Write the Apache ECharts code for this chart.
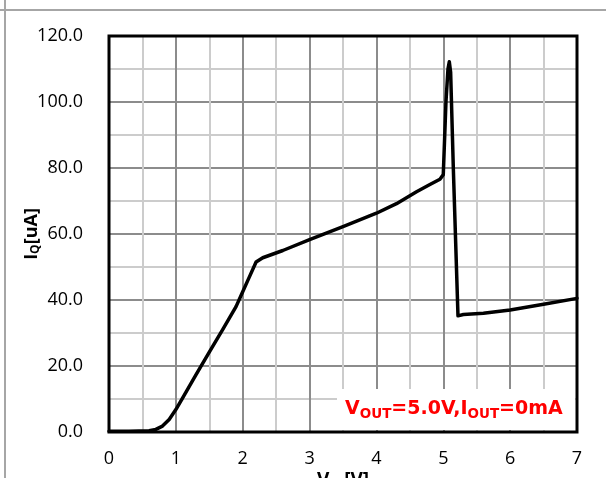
<!DOCTYPE html>
<html>
<head>
<meta charset="utf-8">
<script src="https://cdn.jsdelivr.net/npm/echarts@6/dist/echarts.min.js"></script>
<style>html,body{margin:0;padding:0;background:#fff;}#c{width:606px;height:478px;}</style>
</head>
<body>
<div id="c"></div>
<script>
const vin = [0, 0.3, 0.6, 0.7, 0.8, 0.9, 1.0, 1.1, 1.3, 1.5, 1.7, 1.9, 2.0, 2.1, 2.2, 2.3, 2.6, 3.0, 3.5, 4.0, 4.3, 4.6, 4.8, 4.95, 5.0, 5.04, 5.07, 5.09, 5.11, 5.15, 5.22, 5.3, 5.6, 6.0, 6.5, 7.0];
const iq  = [0.2, 0.2, 0.4, 0.8, 1.8, 3.8, 6.8, 10.3, 17.3, 24.2, 31, 38, 42.5, 47, 51.5, 52.8, 55, 58.3, 62.2, 66.3, 69.2, 72.8, 75, 76.6, 78, 100, 110, 112.2, 109, 80, 35.2, 35.6, 36, 37, 38.7, 40.5];
const xTicks = [0, 1, 2, 3, 4, 5, 6, 7];
const yTicks = [0, 20, 40, 60, 80, 100, 120];

const FONT = '"Open Sans", "Liberation Sans", sans-serif';
const AFONT = '"DejaVu Sans", sans-serif';
const chart = echarts.init(document.getElementById('c'), null, {renderer: 'canvas'});
chart.setOption({
  animation: false,
  grid: {left: 109, right: 29, top: 36, bottom: 46, outerBoundsMode: 'none', containLabel: false, show: true, borderColor: '#000', borderWidth: 3, backgroundColor: 'transparent', z: 3},
  xAxis: {
    type: 'value', min: xTicks[0], max: xTicks[xTicks.length - 1], interval: 1,
    axisLine: {show: false}, axisTick: {show: false},
    axisLabel: {color: '#000', fontSize: 18, fontFamily: FONT, margin: 18, formatter: v => String(v)},
    splitLine: {show: true, lineStyle: {color: '#8c8c8c', width: 2}},
    minorTick: {show: false, splitNumber: 2},
    minorSplitLine: {show: true, lineStyle: {color: '#cccccc', width: 2}},
    name: '{b|V}{s|IN}{b|[V]}', nameLocation: 'middle', nameGap: 38, nameMoveOverlap: false,
    nameTextStyle: {rich: {b: {fontSize: 19, fontWeight: 'bold', fontFamily: FONT, color: '#000'}, s: {fontSize: 13, fontWeight: 'bold', fontFamily: FONT, color: '#000', verticalAlign: 'bottom', padding: [8, 0, 0, 0]}}}
  },
  yAxis: {
    type: 'value', min: yTicks[0], max: yTicks[yTicks.length - 1], interval: 20,
    axisLine: {show: false}, axisTick: {show: false},
    axisLabel: {color: '#000', fontSize: 18, fontFamily: FONT, margin: 26, formatter: v => v.toFixed(1)},
    splitLine: {show: true, lineStyle: {color: '#8c8c8c', width: 2}},
    minorTick: {show: false, splitNumber: 2},
    minorSplitLine: {show: true, lineStyle: {color: '#cccccc', width: 2}},
    name: '{b|I}{s|Q}{b|[uA]}', nameLocation: 'middle', nameGap: 67, nameMoveOverlap: false,
    nameTextStyle: {rich: {b: {fontSize: 18, fontWeight: 'bold', fontFamily: FONT, color: '#000'}, s: {fontSize: 12, fontWeight: 'bold', fontFamily: FONT, color: '#000', verticalAlign: 'bottom', padding: [8, 0, 0, 0]}}}
  },
  series: [{
    type: 'line', data: vin.map((v, i) => [v, iq[i]]), showSymbol: false, smooth: false,
    lineStyle: {color: '#000', width: 3.5, join: 'round', cap: 'round'}, z: 4
  }],
  graphic: [
    {type: 'rect', shape: {x: 337, y: 389, width: 238, height: 41}, style: {fill: '#fff'}, z: 5},
    {type: 'text', x: 345, y: 398, z: 6, style: {
      text: '{b|V}{s|OUT}{b|=5.0V,I}{s|OUT}{b|=0mA}',
      rich: {b: {fontSize: 19, fontWeight: 'bold', fontFamily: AFONT, fill: '#ff0000'}, s: {fontSize: 13.5, fontWeight: 'bold', fontFamily: AFONT, fill: '#ff0000', verticalAlign: 'bottom', padding: [9, 0, 0, 0]}}
    }},
    {type: 'line', shape: {x1: 0, y1: 10, x2: 606, y2: 10}, style: {stroke: '#a6a6a6', lineWidth: 2}, z: 1},
    {type: 'line', shape: {x1: 5, y1: 0, x2: 5, y2: 478}, style: {stroke: '#a6a6a6', lineWidth: 2}, z: 1}
  ]
});
</script>
</body>
</html>
